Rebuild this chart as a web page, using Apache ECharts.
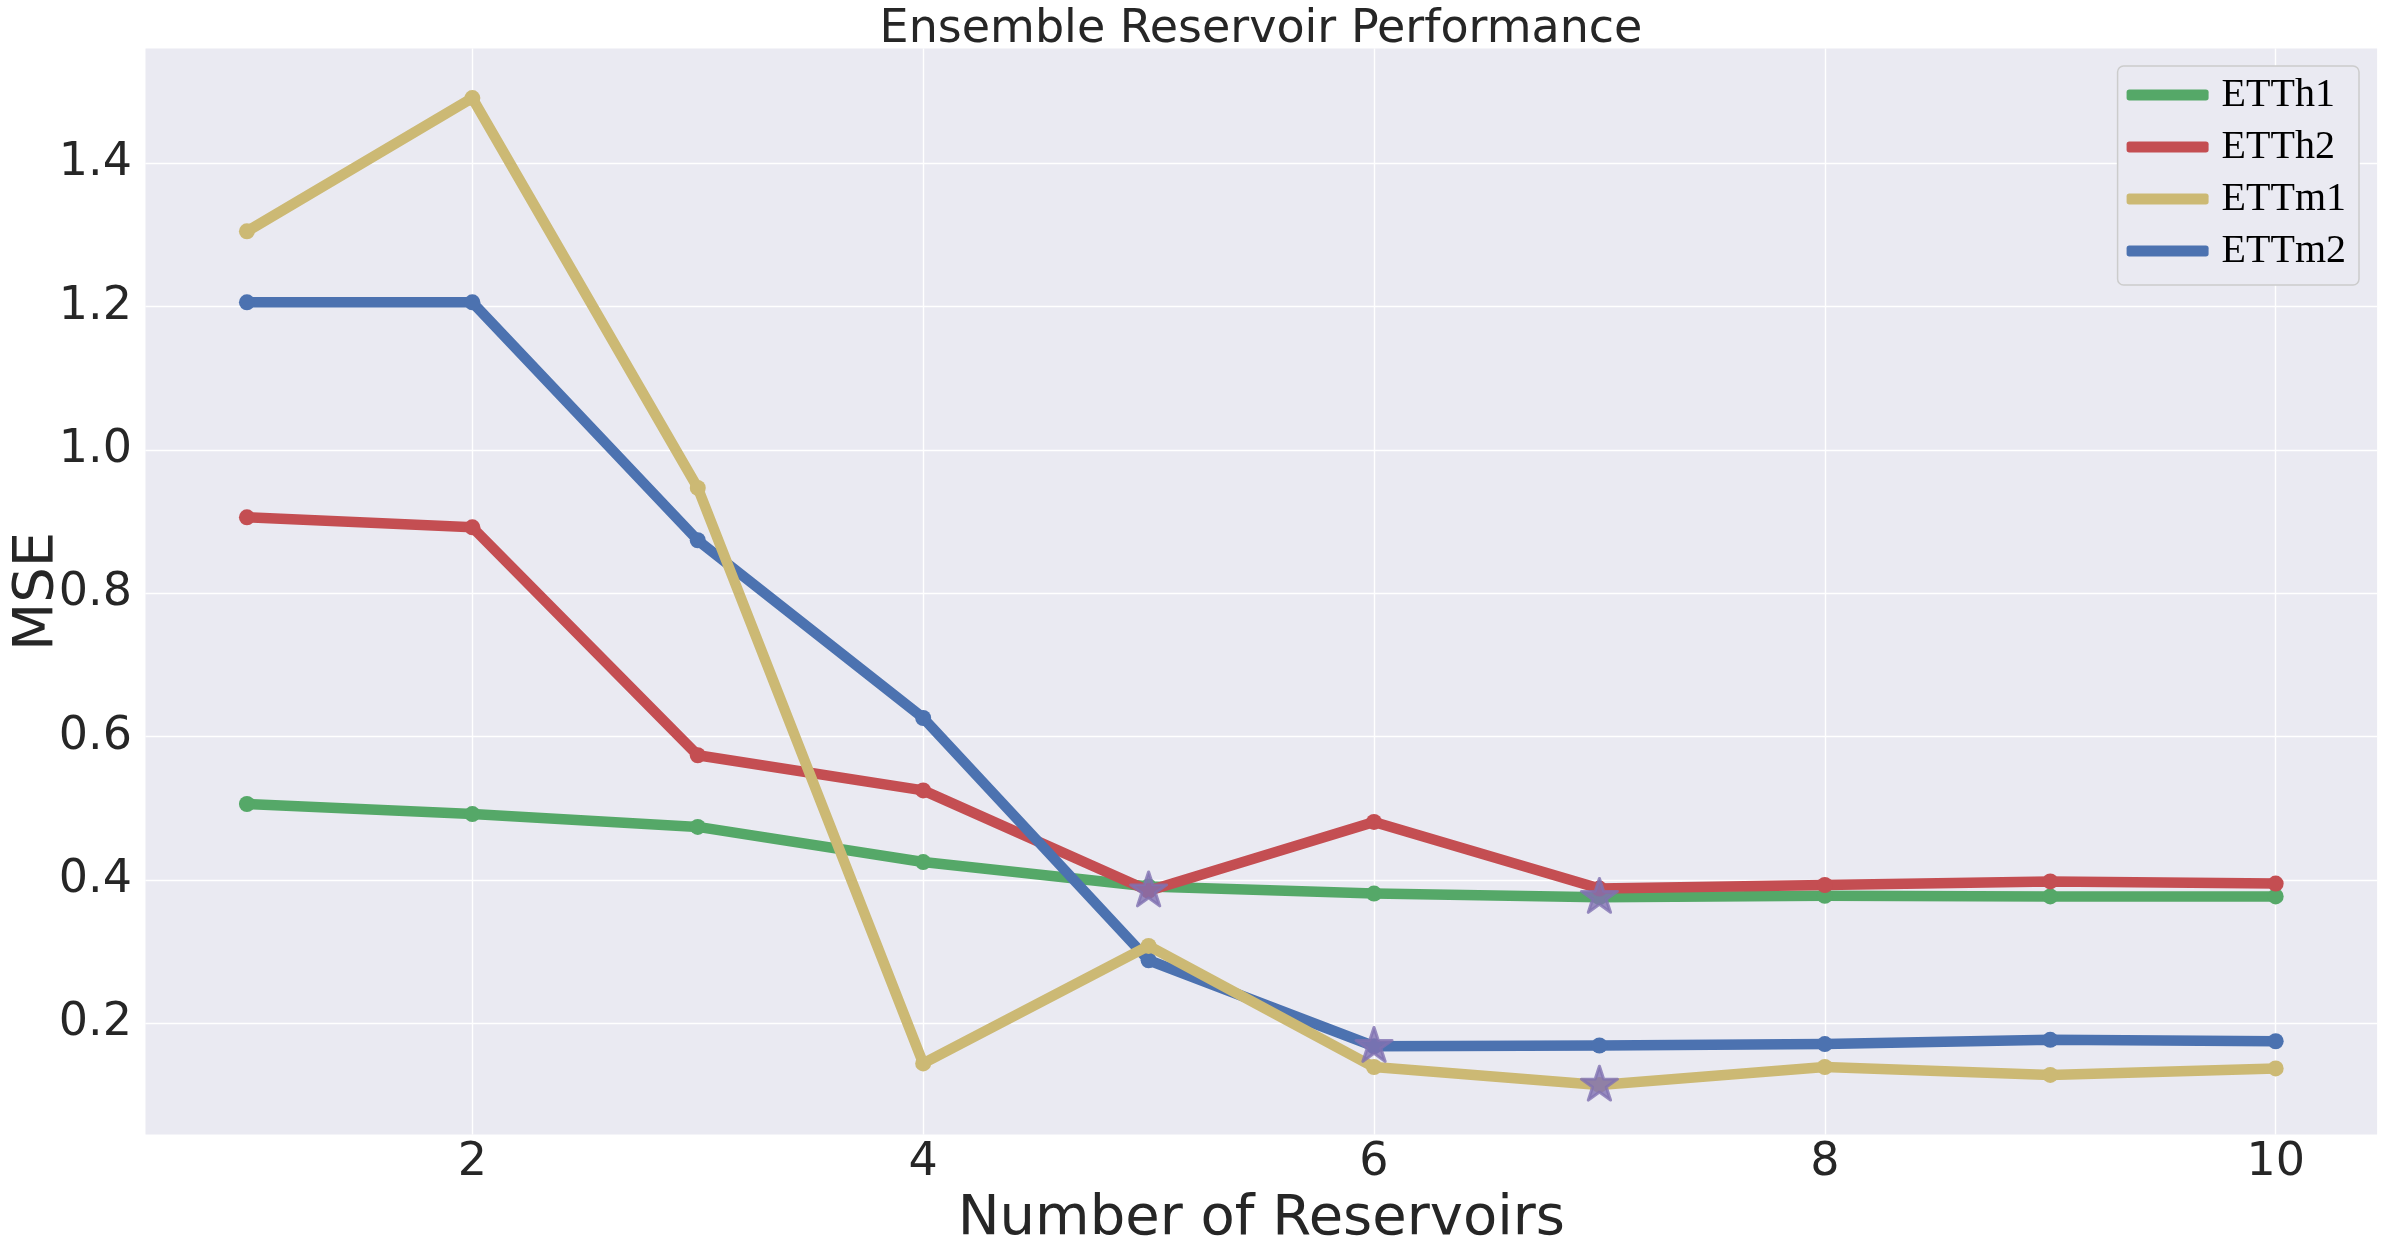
<!DOCTYPE html>
<html><head><meta charset="utf-8">
<script src="https://cdn.jsdelivr.net/npm/echarts@6/dist/echarts.min.js"></script>
<style>html,body{margin:0;padding:0;background:#fff}#c{width:2383px;height:1253px}</style>
</head><body><div id="c"></div>
<script>
const reservoirs = [1, 2, 3, 4, 5, 6, 7, 8, 9, 10];
const seriesNames = ['ETTh1', 'ETTh2', 'ETTm1', 'ETTm2'];
const etth1 = [0.506, 0.492, 0.474, 0.425, 0.391, 0.381, 0.376, 0.378, 0.377, 0.377];
const etth2 = [0.906, 0.892, 0.574, 0.525, 0.385, 0.481, 0.388, 0.393, 0.398, 0.395];
const ettm1 = [1.305, 1.491, 0.947, 0.144, 0.308, 0.139, 0.114, 0.139, 0.128, 0.137];
const ettm2 = [1.206, 1.206, 0.874, 0.626, 0.288, 0.168, 0.169, 0.171, 0.177, 0.175];
const xTicks = [2, 4, 6, 8, 10];
const yTicks = [0.2, 0.4, 0.6, 0.8, 1.0, 1.2, 1.4];

const colors = ['#55A868', '#C44E52', '#CCB974', '#4C72B0'];
const zOrder = [2, 3, 5, 4];
const allVals = [etth1, etth2, ettm1, ettm2];

const lineSeries = allVals.map((vals, k) => ({
  type: 'line',
  name: seriesNames[k],
  data: reservoirs.map((x, i) => [x, vals[i]]),
  symbol: 'circle',
  symbolSize: 16,
  showSymbol: true,
  lineStyle: { width: 10.5, color: colors[k], cap: 'round', join: 'round' },
  itemStyle: { color: colors[k] },
  z: zOrder[k],
  animation: false
}));

const stars = allVals.map(vals => {
  let m = 0;
  vals.forEach((v, i) => { if (v < vals[m]) m = i; });
  return [reservoirs[m], vals[m]];
});

const starPath = 'path://M100,0L122.45,69.1L195.11,69.1L136.33,111.8L158.78,180.9L100,138.2L41.22,180.9L63.67,111.8L4.89,69.1L77.55,69.1Z';

const chart = echarts.init(document.getElementById('c'), null, { renderer: 'canvas' });
const font = 'DejaVu Sans';
chart.setOption({
  animation: false,
  backgroundColor: '#ffffff',
  title: {
    text: 'Ensemble Reservoir Performance',
    left: 1261, textAlign: 'center', top: 7, padding: 0,
    textStyle: { fontFamily: font, fontSize: 46, fontWeight: 'normal', color: '#262626' }
  },
  legend: {
    orient: 'vertical', right: 24, top: 66,
    data: seriesNames,
    icon: 'roundRect', itemWidth: 82, itemHeight: 11, itemGap: 8,
    padding: [7, 13, 12, 9],
    backgroundColor: '#EAEAF2', borderColor: '#CCCCCC', borderWidth: 1.5, borderRadius: 6,
    textStyle: { fontFamily: 'Liberation Serif', fontSize: 40, color: '#000', lineHeight: 44, padding: [0, 0, 0, 8] }
  },
  grid: {
    left: 145.5, right: 5.9, top: 48.6, bottom: 118.6,
    containLabel: false, outerBoundsMode: 'none',
    show: true, backgroundColor: '#EAEAF2', borderWidth: 0
  },
  xAxis: {
    type: 'value', min: 0.55, max: 10.45,
    axisLine: { show: false },
    axisTick: { show: false, customValues: xTicks },
    axisLabel: { customValues: xTicks, fontSize: 46, color: '#262626', fontFamily: font, margin: 6 },
    splitLine: { show: true, lineStyle: { color: '#ffffff', width: 1.4 } },
    name: 'Number of Reservoirs', nameLocation: 'middle', nameGap: 50,
    nameTextStyle: { fontSize: 56, color: '#262626', fontFamily: font }
  },
  yAxis: {
    type: 'value', min: 0.045, max: 1.56,
    axisLine: { show: false },
    axisTick: { show: false, customValues: yTicks },
    axisLabel: { customValues: yTicks, fontSize: 46, color: '#262626', fontFamily: font, margin: 13.5,
      formatter: v => v.toFixed(1) },
    splitLine: { show: true, lineStyle: { color: '#ffffff', width: 1.4 } },
    name: 'MSE', nameLocation: 'middle', nameGap: 80, nameMoveOverlap: false,
    nameTextStyle: { fontSize: 56, color: '#262626', fontFamily: font }
  },
  series: lineSeries.concat([{
    type: 'scatter',
    name: 'best',
    data: stars,
    symbol: starPath,
    symbolSize: [36, 34],
    symbolOffset: [0, -1.8],
    itemStyle: { color: '#8172B2', borderColor: '#8172B2', borderWidth: 3, borderJoin: 'round' },
    z: 10,
    animation: false
  }])
});
</script></body></html>
